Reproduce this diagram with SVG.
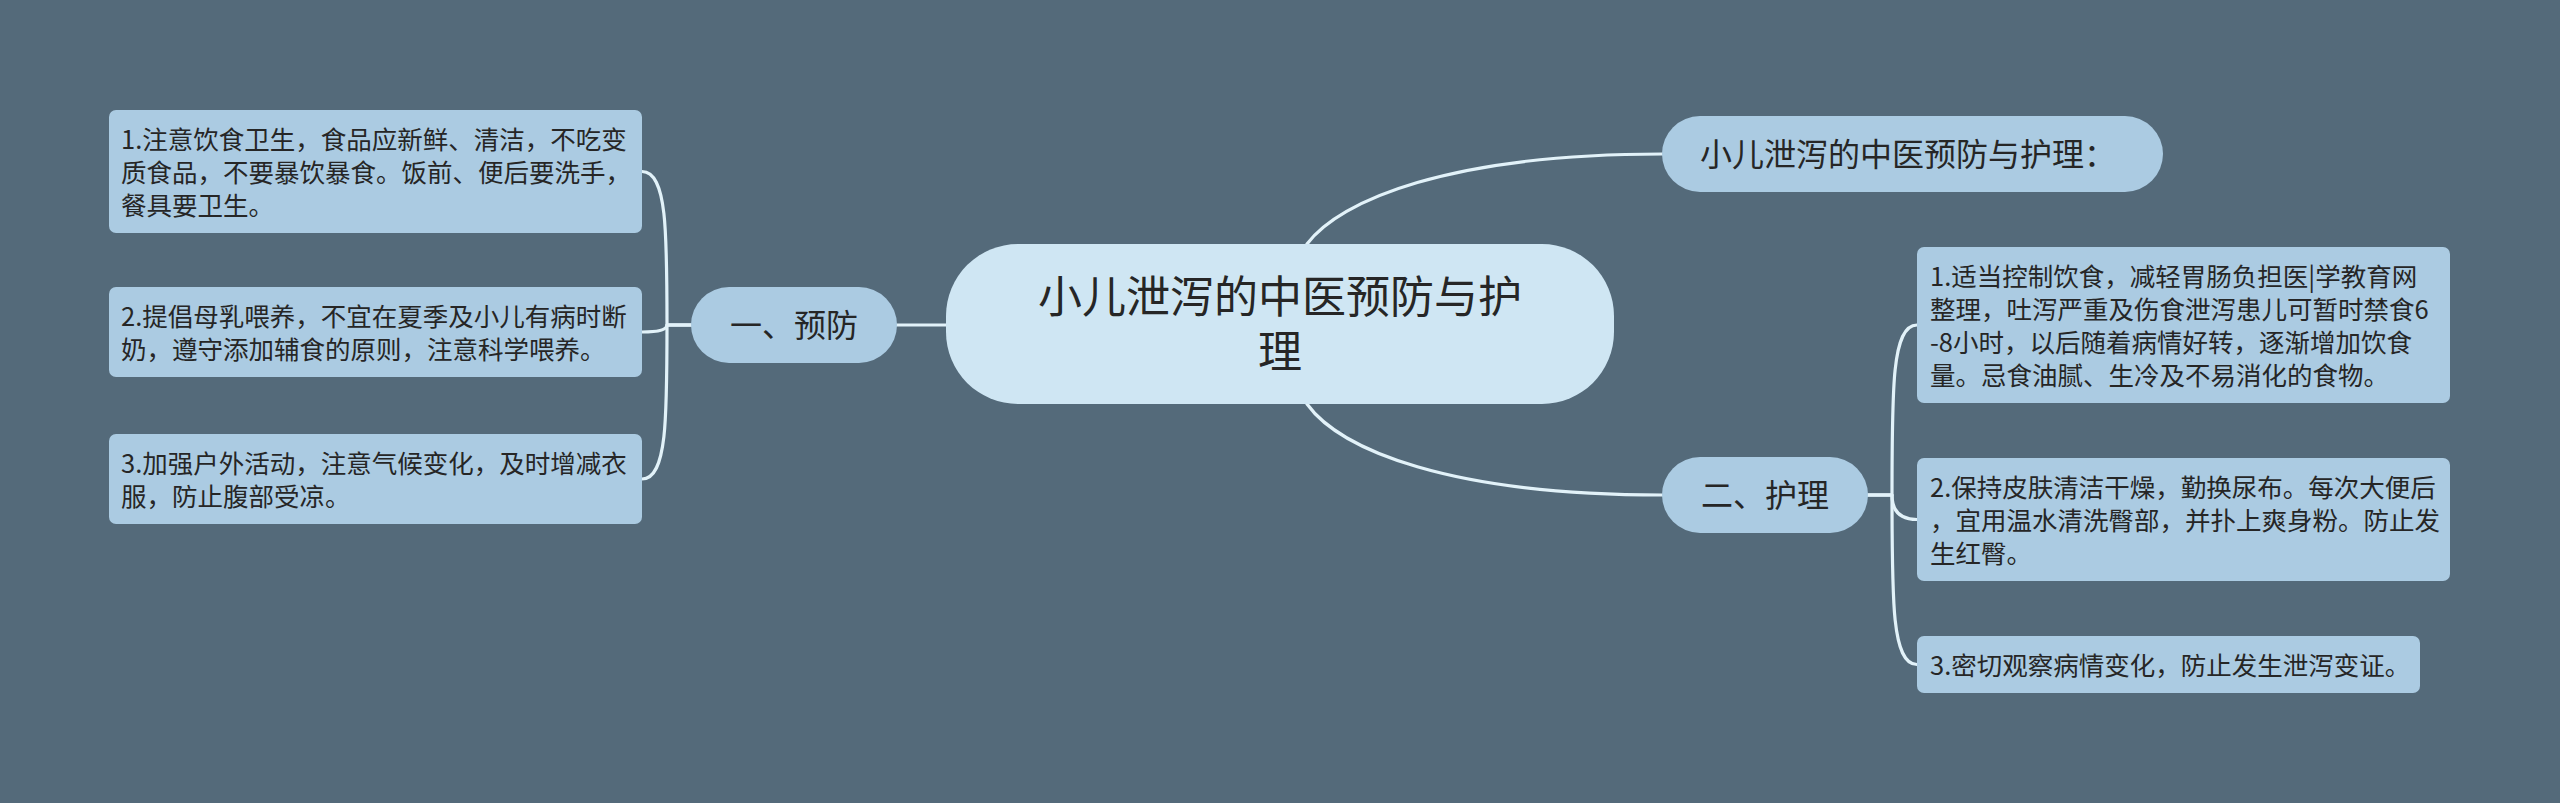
<svg xmlns="http://www.w3.org/2000/svg" width="2560" height="803" viewBox="0 0 2560 803">
<style>
text{font-family:"Noto Sans CJK SC","Noto Sans",sans-serif;fill:#262626}
.root{fill:#cfe6f3}
.l1{fill:#abcbe2}
.leaf{fill:#abcbe2}
.t-root{font-size:44px;text-anchor:middle}
.t-l1{font-size:32px}
.t-leaf{font-size:25.5px}
.conn{fill:none;stroke:#e2f2f9;stroke-width:3.2;stroke-linecap:round;stroke-linejoin:round}
</style>
<rect width="2560" height="803" fill="#546a7a"/>
<g id="connectors">
<path class="conn" d="M946,325 L897,325"/>
<path class="conn" d="M1307,244 C1340,200 1450,154 1662,154"/>
<path class="conn" d="M1307,404 C1340,450 1450,495 1662,495"/>
<path class="conn" d="M691,325 H667 C667,232 667,171.5 642,171.5"/>
<path class="conn" d="M691,325 H667 Q667,332 642,332"/>
<path class="conn" d="M691,325 H667 C667,418 667,479 642,479"/>
<path class="conn" d="M1868,495 H1892 C1892,388 1892,325 1917,325"/>
<path class="conn" d="M1868,495 H1892 Q1892,519.5 1917,519.5"/>
<path class="conn" d="M1868,495 H1892 C1892,602 1892,664.5 1917,664.5"/>
</g>
<g id="root">
<rect class="root" x="946" y="244" width="668" height="160" rx="72" ry="72"/>
<text class="t-root"><tspan x="1280" y="313">小儿泄泻的中医预防与护</tspan><tspan x="1280" y="368">理</tspan></text>
</g>
<g id="n-yufang">
<rect class="l1" x="691" y="287" width="206" height="76" rx="38"/>
<text class="t-l1" x="794" y="337" text-anchor="middle">一、预防</text>
</g>
<g id="n-title">
<rect class="l1" x="1662" y="116" width="501" height="76" rx="38"/>
<text class="t-l1" x="1700" y="166">小儿泄泻的中医预防与护理：</text>
</g>
<g id="n-huli">
<rect class="l1" x="1662" y="457" width="206" height="76" rx="38"/>
<text class="t-l1" x="1765" y="507" text-anchor="middle">二、护理</text>
</g>
<g id="leaf-l1">
<rect class="leaf" x="109" y="110" width="533" height="123" rx="7"/>
<text class="t-leaf"><tspan x="121" y="149">1.注意饮食卫生，食品应新鲜、清洁，不吃变</tspan><tspan x="121" y="182">质食品，不要暴饮暴食。饭前、便后要洗手，</tspan><tspan x="121" y="215">餐具要卫生。</tspan></text>
</g>
<g id="leaf-l2">
<rect class="leaf" x="109" y="287" width="533" height="90" rx="7"/>
<text class="t-leaf"><tspan x="121" y="326">2.提倡母乳喂养，不宜在夏季及小儿有病时断</tspan><tspan x="121" y="359">奶，遵守添加辅食的原则，注意科学喂养。</tspan></text>
</g>
<g id="leaf-l3">
<rect class="leaf" x="109" y="434" width="533" height="90" rx="7"/>
<text class="t-leaf"><tspan x="121" y="473">3.加强户外活动，注意气候变化，及时增减衣</tspan><tspan x="121" y="506">服，防止腹部受凉。</tspan></text>
</g>
<g id="leaf-r1">
<rect class="leaf" x="1917" y="247" width="533" height="156" rx="7"/>
<text class="t-leaf"><tspan x="1930" y="286">1.适当控制饮食，减轻胃肠负担医|学教育网</tspan><tspan x="1930" y="319">整理，吐泻严重及伤食泄泻患儿可暂时禁食6</tspan><tspan x="1930" y="352">-8小时，以后随着病情好转，逐渐增加饮食</tspan><tspan x="1930" y="385">量。忌食油腻、生冷及不易消化的食物。</tspan></text>
</g>
<g id="leaf-r2">
<rect class="leaf" x="1917" y="458" width="533" height="123" rx="7"/>
<text class="t-leaf"><tspan x="1930" y="497">2.保持皮肤清洁干燥，勤换尿布。每次大便后</tspan><tspan x="1930" y="530">，宜用温水清洗臀部，并扑上爽身粉。防止发</tspan><tspan x="1930" y="563">生红臀。</tspan></text>
</g>
<g id="leaf-r3">
<rect class="leaf" x="1917" y="636" width="503" height="57" rx="7"/>
<text class="t-leaf"><tspan x="1930" y="675">3.密切观察病情变化，防止发生泄泻变证。</tspan></text>
</g>
</svg>
